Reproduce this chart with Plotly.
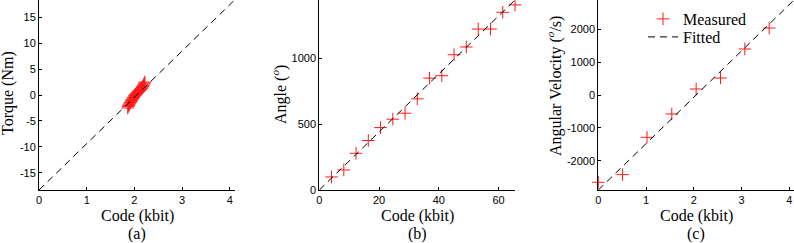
import plotly.graph_objects as go

# ---- data ----
# (a) torque calibration
torque_code = [1.86, 1.87, 1.88, 1.89, 1.90, 1.91, 1.92, 1.93, 1.94, 1.95, 1.96, 1.97, 1.98,
               1.99, 2.00, 2.01, 2.02, 2.03, 2.04, 2.05, 2.06, 2.07, 2.08, 2.09, 2.10, 2.11,
               2.12, 2.13, 2.14, 2.15, 2.16, 2.17, 2.18, 2.19, 2.20, 2.21, 2.22]
torque_val = [-2.5, -2.2, -2.0, -1.9, -1.7, -1.5, -1.4, -1.2, -1.1, -0.9, -0.8, -0.6, -0.5,
              -0.4, -0.2, -0.1, 0.0, 0.1, 0.2, 0.3, 0.4, 0.5, 0.6, 0.7, 0.8, 0.9,
              1.0, 1.1, 1.2, 1.3, 1.4, 1.6, 1.7, 1.9, 2.1, 2.3, 2.5]
torque_fit_x = [0.0, 4.1]
torque_fit_y = [-18.3, 18.3]

# (b) angle calibration
angle_code = [4.1, 8.2, 12.3, 16.4, 20.5, 24.6, 28.7, 32.8, 36.9, 41.0, 45.1, 49.2, 53.2, 57.3, 61.4, 65.5]
angle_val = [99, 152, 278, 375, 473, 537, 582, 691, 848, 866, 1025, 1084, 1220, 1220, 1347, 1403]
angle_fit_x = [0.0, 65.5]
angle_fit_y = [0.0, 1440.0]

# (c) angular velocity calibration
vel_code = [0.0, 0.51, 1.02, 1.54, 2.05, 2.56, 3.07, 3.58]
vel_val = [-2646, -2414, -1283, -576, 182, 515, 1394, 2030]
vel_fit_x = [0.0, 4.1]
vel_fit_y = [-2880.0, 2880.0]

# tick values / labels
code_ticks = [0, 1, 2, 3, 4]
code_ticks_b = [0, 20, 40, 60]
torque_ticks = [-15, -10, -5, 0, 5, 10, 15]
angle_ticks = [0, 500, 1000]
vel_ticks = [-2000, -1000, 0, 1000, 2000]

x_title = "Code (kbit)"
y_titles = ["Torque (Nm)", "Angle (<sup><i>o</i></sup>)", "Angular Velocity (<sup><i>o</i></sup>/s)"]
sub_labels = ["(a)", "(b)", "(c)"]

# ---- figure ----
W, H = 794, 243
ML, MR, MT, MB = 39, 0, 0, 53
PW = W - ML - MR
PH = H - MT - MB

def px(x):
    return (x - ML) / PW

def py(y):
    return (PH - (y - MT)) / PH

def lab(vals):
    return [str(v) for v in vals]  # plain hyphen minus, like the reference

RED = "#ff1a1a"
serif = "Liberation Serif"
sans = "Liberation Sans"

fig = go.Figure()

def add_panel(i, cx, cy, fx, fy, show):
    xa = "x" if i == 1 else f"x{i}"
    ya = "y" if i == 1 else f"y{i}"
    fig.add_trace(go.Scatter(x=cx, y=cy, mode="markers", name="Measured",
                             marker=dict(symbol="cross-thin", size=9, color=RED,
                                         line=dict(color=RED, width=1)),
                             xaxis=xa, yaxis=ya, showlegend=show, cliponaxis=False,
                             legend="legend"))
    fig.add_trace(go.Scatter(x=fx, y=fy, mode="lines", name="Fitted",
                             line=dict(color="black", width=1, dash="7px,5px"),
                             xaxis=xa, yaxis=ya, showlegend=show, legend="legend2"))

add_panel(1, torque_code, torque_val, torque_fit_x, torque_fit_y, False)
add_panel(2, angle_code, angle_val, angle_fit_x, angle_fit_y, False)
add_panel(3, vel_code, vel_val, vel_fit_x, vel_fit_y, True)

axcommon = dict(showline=True, linecolor="black", linewidth=1, ticks="inside",
                ticklen=3, tickcolor="black", showgrid=False, zeroline=False,
                tickfont=dict(family=sans, size=11, color="black"), mirror=False,
                automargin=False)

legfont = dict(family=serif, size=16, color="black")

fig.update_layout(
    width=W, height=H,
    margin=dict(l=ML, r=MR, t=MT, b=MB),
    plot_bgcolor="white", paper_bgcolor="white",
    xaxis=dict(domain=[px(39), px(234.6)], range=[0, 4.1], tickvals=code_ticks,
               ticktext=lab(code_ticks), **axcommon),
    yaxis=dict(domain=[0, 1], range=[-18.3, 18.3], tickvals=torque_ticks,
               ticktext=lab(torque_ticks), anchor="x", **axcommon),
    xaxis2=dict(domain=[px(319.3), px(515)], range=[0, 65.5], tickvals=code_ticks_b,
                ticktext=lab(code_ticks_b), anchor="y2", **axcommon),
    yaxis2=dict(domain=[0, 1], range=[0, 1440], tickvals=angle_ticks,
                ticktext=lab(angle_ticks), anchor="x2", **axcommon),
    xaxis3=dict(domain=[px(598.3), 1], range=[0, 4.1], tickvals=code_ticks,
                ticktext=lab(code_ticks), anchor="y3", **axcommon),
    yaxis3=dict(domain=[0, 1], range=[-2880, 2880], tickvals=vel_ticks,
                ticktext=lab(vel_ticks), anchor="x3", **axcommon),
    legend=dict(x=px(643), y=py(19), xanchor="left", yanchor="middle", font=legfont,
                bgcolor="rgba(0,0,0,0)", itemwidth=30),
    legend2=dict(x=px(643), y=py(37), xanchor="left", yanchor="middle", font=legfont,
                 bgcolor="rgba(0,0,0,0)", itemwidth=30),
    showlegend=True,
)

def ann(text, x, y, angle=0):
    fig.add_annotation(text=text, xref="paper", yref="paper", x=px(x), y=py(y),
                       xanchor="center", yanchor="middle", showarrow=False, textangle=angle,
                       font=dict(family=serif, size=16, color="black"))

for xc in [137, 417, 696]:
    ann(x_title, xc, 216)
for lbl, xc in zip(sub_labels, [137, 417, 696]):
    ann(lbl, xc, 234)
for t, xc, yc in zip(y_titles, [8, 279, 554], [93, 95, 86]):
    ann(t, xc, yc, angle=-90)

fig.write_html("out.html", config={"displayModeBar": False},
               post_script="document.body.style.margin='0';document.body.style.overflow='hidden';")
